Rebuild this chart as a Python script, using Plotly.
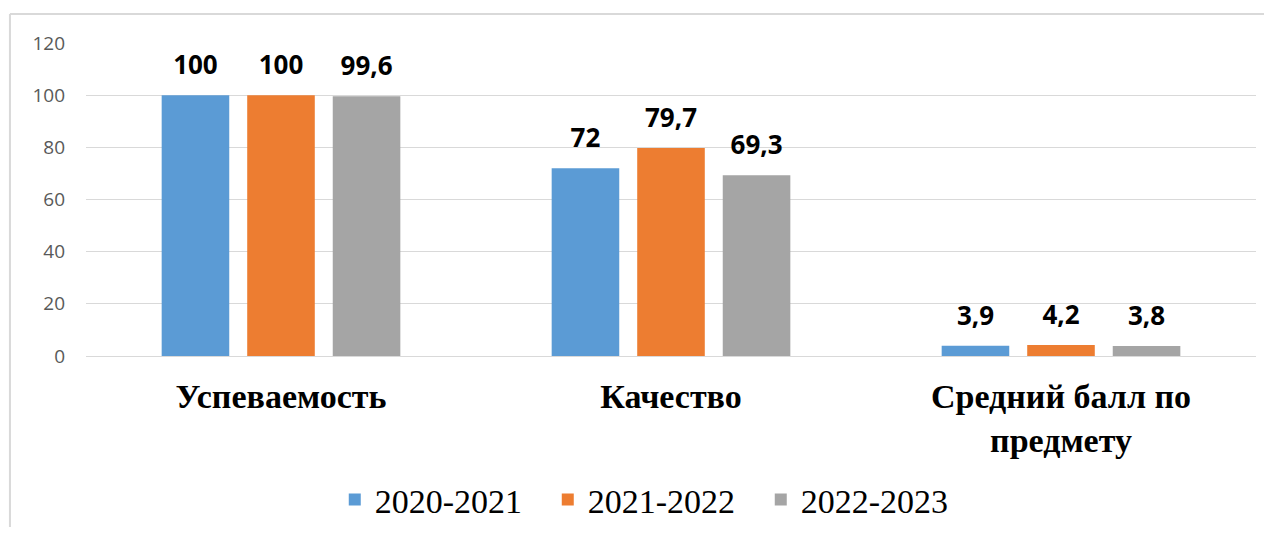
import plotly.graph_objects as go

categories = ["Успеваемость", "Качество", "Средний балл по<br>предмету"]
years = ["2020-2021", "2021-2022", "2022-2023"]
v_2020 = [100, 72, 3.9]
v_2021 = [100, 79.7, 4.2]
v_2022 = [99.6, 69.3, 3.8]
labels_2020 = ["100", "72", "3,9"]
labels_2021 = ["100", "79,7", "4,2"]
labels_2022 = ["99,6", "69,3", "3,8"]
y_ticks = [0, 20, 40, 60, 80, 100, 120]

colors = ["#5B9BD5", "#ED7D31", "#A5A5A5"]
series = [v_2020, v_2021, v_2022]
labels = [labels_2020, labels_2021, labels_2022]

fig = go.Figure()
for name, vals, col in zip(years, series, colors):
    fig.add_trace(go.Bar(x=categories, y=vals, name=name, marker_color=col,
                         marker_line_width=0, offsetgroup=name))

# value labels above bars, grouped the same way as the bars
for name, vals, txt in zip(years, series, labels):
    fig.add_trace(go.Scatter(x=categories, y=vals, text=txt, mode="markers+text",
                             textposition="top center", offsetgroup=name,
                             marker=dict(size=22, color="rgba(0,0,0,0)"),
                             textfont=dict(family="Open Sans", size=26, color="black", weight="bold"),
                             showlegend=False, hoverinfo="skip"))

# page body has an 8px margin, keep the figure inside the window
fig.update_layout(
    width=1264, height=519,
    margin=dict(l=78, r=16, t=35, b=171),
    paper_bgcolor="white", plot_bgcolor="white",
    barmode="group", bargap=0.342, bargroupgap=0.21,
    scattermode="group", scattergap=0.342,
    showlegend=True,
    legend=dict(orientation="h", x=0.4857, xanchor="center", yref="container", y=0.052, yanchor="middle",
                font=dict(family="Liberation Serif", size=34, color="black"),
                itemwidth=30, entrywidth=168, entrywidthmode="pixels", tracegroupgap=0),
    shapes=[
        dict(type="line", xref="paper", yref="paper", x0=-0.065, x1=1.02, y0=1.0927, y1=1.0927,
             line=dict(color="#D9D9D9", width=2)),
        dict(type="line", xref="paper", yref="paper", x0=-0.065, x1=-0.065, y0=1.0927, y1=-0.6,
             line=dict(color="#D9D9D9", width=2)),
    ],
)
fig.update_yaxes(range=[0, 120], tickvals=y_ticks, showgrid=True, gridcolor="#D9D9D9", gridwidth=1,
                 zeroline=False, showline=False, ticks="", ticklabelstandoff=20, automargin=False,
                 tickfont=dict(family="Open Sans", size=19, color="#595959"))
fig.update_xaxes(showline=True, linecolor="#D9D9D9", linewidth=1, ticks="", ticklabelstandoff=10,
                 automargin=False,
                 tickfont=dict(family="Liberation Serif", size=34, color="black", weight="bold"))

fig.write_html("out.html")
